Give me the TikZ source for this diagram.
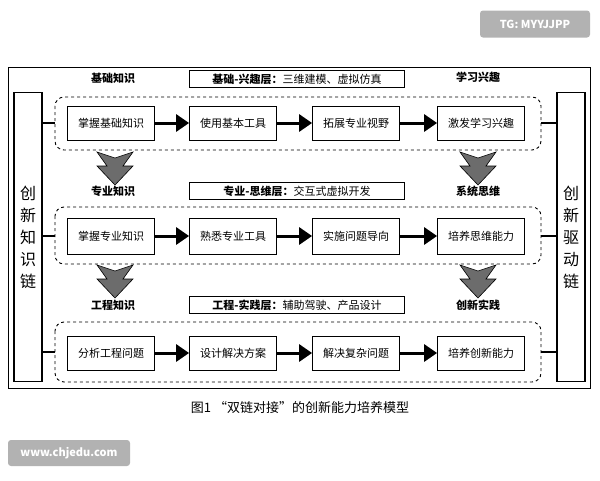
\documentclass[tikz,border=0pt]{standalone}
\usepackage{fontspec}
\setmainfont{Noto Sans CJK SC}
\usetikzlibrary{positioning,arrows.meta}
\tikzset{
  stepbox/.style={draw,line width=0.8pt,minimum width=87pt,minimum height=34pt,inner sep=1pt,font=\fontsize{11}{13}\selectfont},
  layerbox/.style={draw,line width=0.8pt,minimum width=215pt,minimum height=17pt,inner sep=1pt,font=\fontsize{11}{13}\selectfont},
  zone/.style={draw,dashed,line width=0.9pt,rounded corners=9pt},
  tag/.style={font=\bfseries\fontsize{11}{13}\selectfont},
  flow/.style={line width=3pt,-{Triangle[length=13pt,width=17pt]}},
  grayarrow/.style={fill=gray!85!black,draw=black,line width=0.6pt},
  mark box/.style={fill=gray!60,text=white,rounded corners=3pt,font=\bfseries\fontsize{11}{13}\selectfont}
}
\newcommand{\graydown}[1]{\path[grayarrow,shift={#1}] (-18,0) -- (0,6) -- (18,0) -- (8,14) -- (18,14) -- (0,33) -- (-18,14) -- (-8,14) -- cycle;}
\begin{document}
\begin{tikzpicture}[x=1pt,y=-1pt]
\useasboundingbox (0,0) rectangle (600,480);
% watermarks
\node[mark box,minimum width=110pt,minimum height=27pt] (wm1) at (535,24) {TG: MYYJJPP};
\node[mark box,minimum width=122pt,minimum height=26pt] (wm2) at (69,453) {www.chjedu.com};
% frame
\draw[line width=0.8pt] (8,67) rectangle (590,388);
\node[draw,line width=1.2pt,minimum width=28pt,minimum height=289pt] (left) at (28,237) {};
\node[draw,line width=1.2pt,minimum width=28pt,minimum height=289pt] (right) at (571,237) {};
\node[font=\fontsize{16}{22}\selectfont,align=center] at (left) {创\\新\\知\\识\\链};
\node[font=\fontsize{16}{22}\selectfont,align=center] at (right) {创\\新\\驱\\动\\链};
% dashed zones
\draw[zone] (55,97) rectangle (541,150);
\draw[zone] (55,207) rectangle (541,264);
\draw[zone] (55,322) rectangle (541,382);
\coordinate (za) at (55,123); \coordinate (zb) at (541,123);
\coordinate (zc) at (55,236); \coordinate (zd) at (541,236);
\coordinate (ze) at (55,352); \coordinate (zf) at (541,352);
\draw[line width=1.2pt] (left.east |- za) -- (za);
\draw[line width=1.2pt] (zb) -- (right.west |- zb);
\draw[line width=1.2pt] (left.east |- zc) -- (zc);
\draw[line width=1.2pt] (zd) -- (right.west |- zd);
\draw[line width=1.2pt] (left.east |- ze) -- (ze);
\draw[line width=1.2pt] (zf) -- (right.west |- zf);
% row 1
\node[stepbox] (a1) at (111,123) {掌握基础知识};
\node[stepbox] (a2) at (233,123) {使用基本工具};
\node[stepbox] (a3) at (356,123) {拓展专业视野};
\node[stepbox] (a4) at (481,123) {激发学习兴趣};
\draw[flow] (a1) -- (a2); \draw[flow] (a2) -- (a3); \draw[flow] (a3) -- (a4);
% row 2
\node[stepbox,minimum height=36pt] (b1) at (111,236) {掌握专业知识};
\node[stepbox,minimum height=36pt] (b2) at (233,236) {熟悉专业工具};
\node[stepbox,minimum height=36pt] (b3) at (356,236) {实施问题导向};
\node[stepbox,minimum height=36pt] (b4) at (481,236) {培养思维能力};
\draw[flow] (b1) -- (b2); \draw[flow] (b2) -- (b3); \draw[flow] (b3) -- (b4);
% row 3
\node[stepbox] (c1) at (111,353) {分析工程问题};
\node[stepbox] (c2) at (233,353) {设计解决方案};
\node[stepbox] (c3) at (356,353) {解决复杂问题};
\node[stepbox] (c4) at (481,353) {培养创新能力};
\draw[flow] (c1) -- (c2); \draw[flow] (c2) -- (c3); \draw[flow] (c3) -- (c4);
% layer titles and tags
\node[layerbox] (t1) at (297,79) {\textbf{基础-兴趣层：}三维建模、虚拟仿真};
\node[layerbox] (t2) at (297,191) {\textbf{专业-思维层：}交互式虚拟开发};
\node[layerbox] (t3) at (297,305) {\textbf{工程-实践层：}辅助驾驶、产品设计};
\node[tag] (k1) at (113,78) {基础知识};
\node[tag] (k2) at (478,77) {学习兴趣};
\node[tag] (k3) at (113,191) {专业知识};
\node[tag] (k4) at (478,191) {系统思维};
\node[tag] (k5) at (113,305) {工程知识};
\node[tag] (k6) at (478,305) {创新实践};
% transfer arrows
\graydown{(115,152)} \graydown{(478,152)}
\graydown{(115,265)} \graydown{(478,265)}
% caption
\node[font=\fontsize{13}{15}\selectfont] (cap) at (300,408) {图1 “双链对接”的创新能力培养模型};
\end{tikzpicture}
\end{document}
